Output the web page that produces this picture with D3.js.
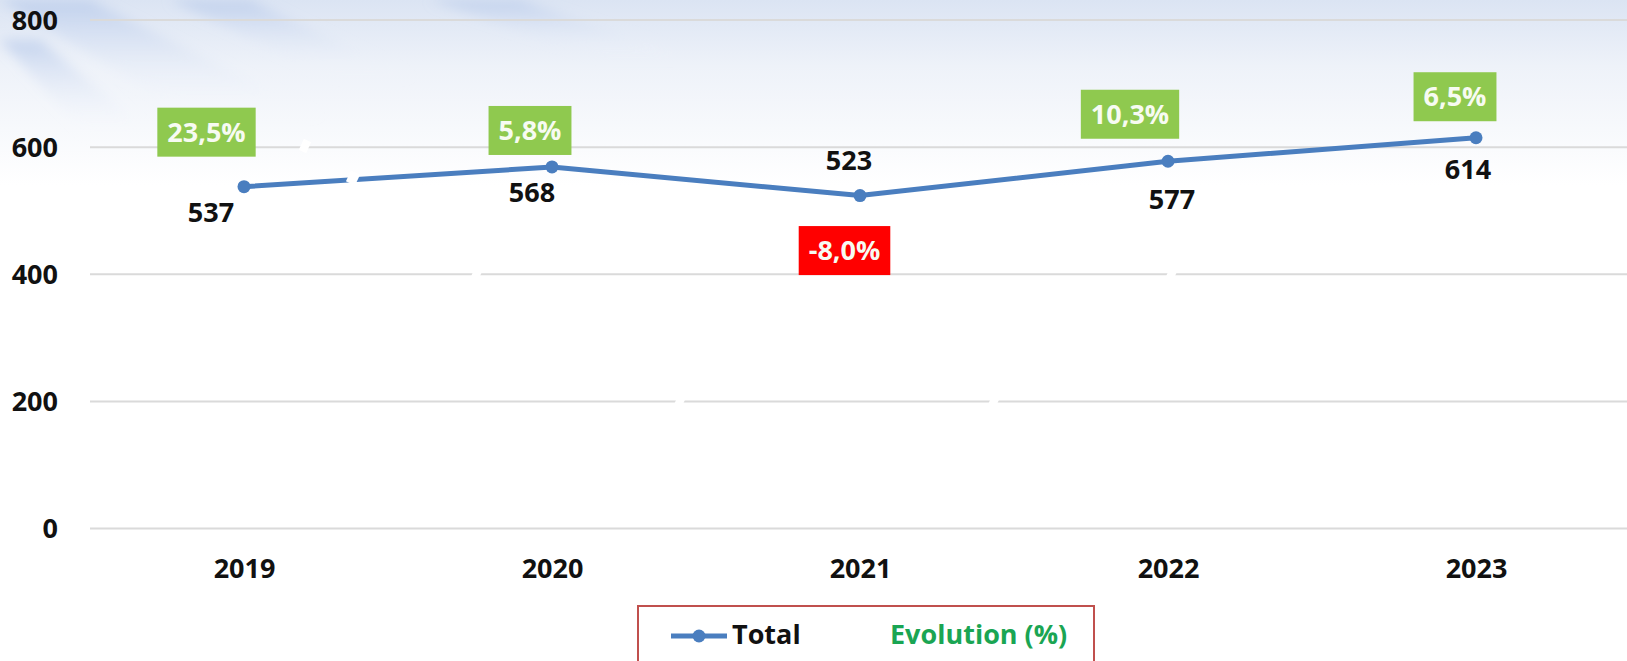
<!DOCTYPE html>
<html>
<head>
<meta charset="utf-8">
<script src="https://cdn.jsdelivr.net/npm/d3@7"></script>
<style>
  html, body { margin: 0; padding: 0; background: #fff; }
  svg { display: block; }
  text { font-family: "Open Sans", "Noto Sans", sans-serif; font-weight: 700; }
</style>
</head>
<body>
<svg id="chart" width="1627" height="661"></svg>
<script>
// ---- data ----
const categories = ["2019", "2020", "2021", "2022", "2023"];
const totals = [537, 568, 523, 577, 614];
const evolution = [23.5, 5.8, -8.0, 10.3, 6.5];
const yTicks = [0, 200, 400, 600, 800];
const seriesName = "Total";
const evolutionName = "Evolution (%)";

// ---- layout ----
const W = 1627, H = 661;
const plotLeft = 90, plotRight = 1630, yTop = 19.5, yBottom = 528;
const fs = 27;
const valOffsets = [[-33, 25.5], [-20, 25], [-11, -35], [4, 38], [-8, 32]];
const pctOffsets = [[-37.5, -54.5], [-22, -36.5], [-15.5, 55], [-38, -47], [-21, -41]];
// decorative white glints of the background picture
const glints = [[353, 178, 10], [305, 146, 8], [477, 273, 8], [680, 401, 8], [994, 401, 8], [1172, 273, 8]];

const svg = d3.select("#chart");
const defs = svg.append("defs");

// background
const bg = defs.append("linearGradient").attr("id", "bg").attr("x1", 0).attr("y1", 0).attr("x2", 0).attr("y2", 1);
bg.append("stop").attr("offset", "0%").attr("stop-color", "#dbe4f3");
bg.append("stop").attr("offset", "10%").attr("stop-color", "#eef2f9");
bg.append("stop").attr("offset", "28%").attr("stop-color", "#ffffff");
bg.append("stop").attr("offset", "100%").attr("stop-color", "#ffffff");
svg.append("rect").attr("width", W).attr("height", H).attr("fill", "url(#bg)");

const streak = defs.append("linearGradient").attr("id", "streak").attr("x1", 0).attr("y1", 0).attr("x2", 0).attr("y2", 1);
streak.append("stop").attr("offset", "0%").attr("stop-color", "#aec3e8").attr("stop-opacity", 0.6);
streak.append("stop").attr("offset", "100%").attr("stop-color", "#ffffff").attr("stop-opacity", 0);
const blur = defs.append("filter").attr("id", "soft").attr("x", "-20%").attr("y", "-20%").attr("width", "140%").attr("height", "140%");
blur.append("feGaussianBlur").attr("stdDeviation", 6);
const streaks = [
  [[0, 0], [90, 0], [330, 120], [200, 120]],
  [[170, 0], [250, 0], [420, 80], [340, 80]],
  [[430, 0], [520, 0], [700, 60], [610, 60]],
  [[0, 40], [40, 40], [160, 140], [90, 140]]
];
svg.append("g").attr("filter", "url(#soft)").selectAll("path").data(streaks).join("path")
  .attr("d", d => "M" + d.join("L") + "Z")
  .attr("fill", "url(#streak)");

// scales
const x = d3.scalePoint().domain(categories).range([plotLeft, plotRight]).padding(0.5);
const y = d3.scaleLinear().domain([0, 800]).range([yBottom, yTop]);

// gridlines via axis
const yAxis = d3.axisLeft(y).tickValues(yTicks).tickSize(-(W - plotLeft)).tickPadding(32).tickFormat(d3.format("d"));
const gy = svg.append("g").attr("transform", `translate(${plotLeft},0)`).call(yAxis);
gy.select(".domain").remove();
gy.selectAll(".tick line").attr("stroke", "#dadada").attr("stroke-width", 2);
gy.selectAll(".tick text").attr("fill", "#111").attr("font-size", fs).attr("dy", "0.36em")
  .style("font-family", "'Open Sans', sans-serif").style("font-weight", 700);

const xAxis = d3.axisBottom(x).tickSize(0).tickPadding(0);
const gx = svg.append("g").attr("transform", `translate(0,568.5)`).call(xAxis);
gx.select(".domain").remove();
gx.selectAll(".tick text").attr("fill", "#111").attr("font-size", fs).attr("dy", "0.36em").attr("y", 0)
  .style("font-family", "'Open Sans', sans-serif").style("font-weight", 700);

// line
const blue = "#4a7ebf";
const line = d3.line().x((d, i) => x(categories[i])).y(d => y(d));
svg.append("path").datum(totals).attr("d", line)
  .attr("fill", "none").attr("stroke", blue).attr("stroke-width", 5).attr("stroke-linejoin", "round");
svg.append("g").selectAll("circle").data(totals).join("circle")
  .attr("cx", (d, i) => x(categories[i])).attr("cy", d => y(d)).attr("r", 6.5).attr("fill", blue);

// white glints over line / gridlines
svg.append("g").selectAll("rect").data(glints).join("rect")
  .attr("x", d => -d[2] / 2).attr("y", -6).attr("width", d => d[2]).attr("height", 12)
  .attr("transform", d => `translate(${d[0]},${d[1]}) rotate(25)`)
  .attr("fill", "#ffffff");

// value labels
svg.append("g").selectAll("text").data(totals).join("text")
  .attr("x", (d, i) => x(categories[i]) + valOffsets[i][0])
  .attr("y", (d, i) => y(d) + valOffsets[i][1])
  .attr("dy", "0.36em").attr("text-anchor", "middle").attr("font-size", fs).attr("fill", "#111")
  .text(d => d);

// evolution boxes
const fmtPct = v => d3.format(".1f")(v).replace(".", ",").replace("−", "-") + "%";
const gp = svg.append("g").selectAll("g").data(evolution).join("g")
  .attr("transform", (d, i) => `translate(${x(categories[i]) + pctOffsets[i][0]},${y(totals[i]) + pctOffsets[i][1]})`);
gp.append("text").attr("text-anchor", "middle").attr("dy", "0.36em")
  .attr("font-size", fs).attr("fill", "#f7fbf2").text(d => fmtPct(d));
gp.each(function(d) {
  const g = d3.select(this);
  const bb = g.select("text").node().getBBox();
  const w = bb.width + 20, h = 49;
  g.insert("rect", "text").attr("x", -w / 2).attr("y", -h / 2).attr("width", w).attr("height", h)
    .attr("fill", d < 0 ? "#ff0000" : "#8fc94f");
});

// legend
const lg = svg.append("g");
lg.append("rect").attr("x", 638).attr("y", 606).attr("width", 456).attr("height", 60)
  .attr("fill", "#fff").attr("stroke", "#c0504d").attr("stroke-width", 2);
lg.append("line").attr("x1", 671).attr("x2", 727).attr("y1", 636).attr("y2", 636)
  .attr("stroke", blue).attr("stroke-width", 5);
lg.append("circle").attr("cx", 699).attr("cy", 636).attr("r", 6.5).attr("fill", blue);
lg.append("text").attr("x", 732).attr("y", 644).attr("font-size", fs).attr("fill", "#111").text(seriesName);
lg.append("text").attr("x", 890).attr("y", 644).attr("font-size", fs).attr("fill", "#1aa553").text(evolutionName);
</script>
</body>
</html>
